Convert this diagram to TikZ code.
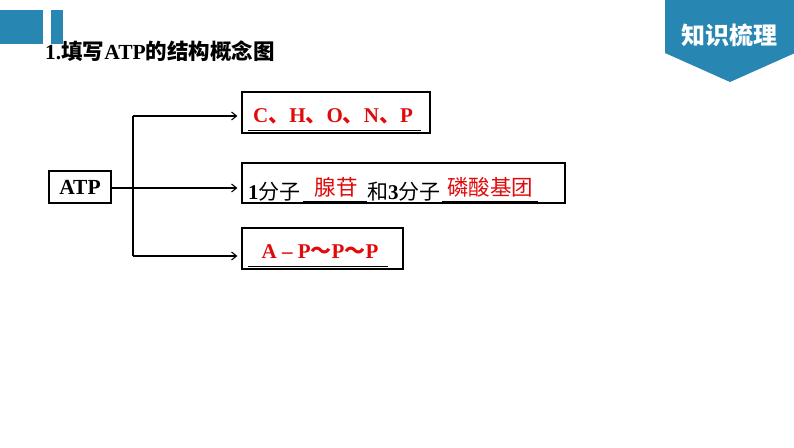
\documentclass[tikz,border=0pt]{standalone}
\usepackage{fontspec}
\setmainfont{Liberation Serif}
\newfontfamily\cjk{Noto Sans CJK SC}
\usetikzlibrary{arrows.meta}
\definecolor{bannerblue}{RGB}{40,134,178}
\definecolor{ansred}{RGB}{225,10,10}
\tikzset{
  boxnode/.style={draw=black, line width=1.2pt, inner sep=0pt},
  conn/.style={line width=1.1pt, black},
  arr/.style={conn, -{Straight Barb[length=5pt,width=8pt,line width=1.1pt]}, shorten >=4pt},
  blank/.style={line width=1pt, black},
  anstext/.style={text=ansred, inner sep=0pt},
}
\begin{document}
\begin{tikzpicture}[x=1pt,y=-1pt]
\useasboundingbox (0,0) rectangle (794,447);
\fill[white] (0,0) rectangle (794,447);
% top-left blocks
\fill[bannerblue] (0,10) rectangle (43,44);
\fill[bannerblue] (51,10) rectangle (63,44);
% title
\node[anchor=base west, inner sep=0pt, font=\fontsize{21.5}{24}\selectfont\bfseries] (title) at (45,59) {1.{\cjk 填写}ATP{\cjk 的结构概念图}};
% banner
\fill[bannerblue] (665,0) -- (795,0) -- (795,53) -- (730,82) -- (665,53) -- cycle;
\node[text=white, font=\fontsize{24}{26}\selectfont\cjk\bfseries] (banner) at (729,35) {知识梳理};
% boxes
\node[boxnode, minimum width=62pt, minimum height=32pt, font=\fontsize{21.5}{24}\selectfont\bfseries] (atp) at (80,187) {ATP};
\node[boxnode, minimum width=188pt, minimum height=41pt] (b1) at (336,112.5) {};
\node[boxnode, minimum width=323pt, minimum height=40pt] (b2) at (403.5,183) {};
\node[boxnode, minimum width=161pt, minimum height=41pt] (b3) at (322.5,248.5) {};
% connectors
\coordinate (jt) at (133,116);
\coordinate (jb) at (133,256);
\coordinate (jm) at (111,188);
\draw[conn] (jt) -- (jb);
\draw[arr] (jt) -- (jt -| b1.west);
\draw[arr] (jb) -- (jb -| b3.west);
\draw[arr] (jm) -- (jm -| b2.west);
% box 1 content
\node[anstext, font=\fontsize{21}{23}\selectfont\bfseries] (t1) at (333,116) {C{\cjk 、}H{\cjk 、}O{\cjk 、}N{\cjk 、}P};
\draw[blank] (248,130) -- (421,130);
% box 3 content
\node[anstext, font=\fontsize{21}{23}\selectfont\bfseries] (t3) at (320,252) {A – P{\cjk ～}P{\cjk ～}P};
\draw[blank] (248,266) -- (388,266);
% box 2 content
\node[anchor=base west, inner sep=0pt, font=\fontsize{21}{23}\selectfont] (t2a) at (248,199) {\textbf{1}{\cjk 分子}};
\draw[blank] (303,201) -- (367,201);
\node[anchor=base west, inner sep=0pt, font=\fontsize{21}{23}\selectfont] (t2b) at (367,199) {{\cjk 和}\textbf{3}{\cjk 分子}};
\draw[blank] (442,201) -- (538,201);
\node[anstext, font=\fontsize{21.5}{23}\selectfont\cjk] (t2c) at (336,187) {腺苷};
\node[anstext, font=\fontsize{21.5}{23}\selectfont\cjk] (t2d) at (490,187) {磷酸基团};
\end{tikzpicture}
\end{document}
